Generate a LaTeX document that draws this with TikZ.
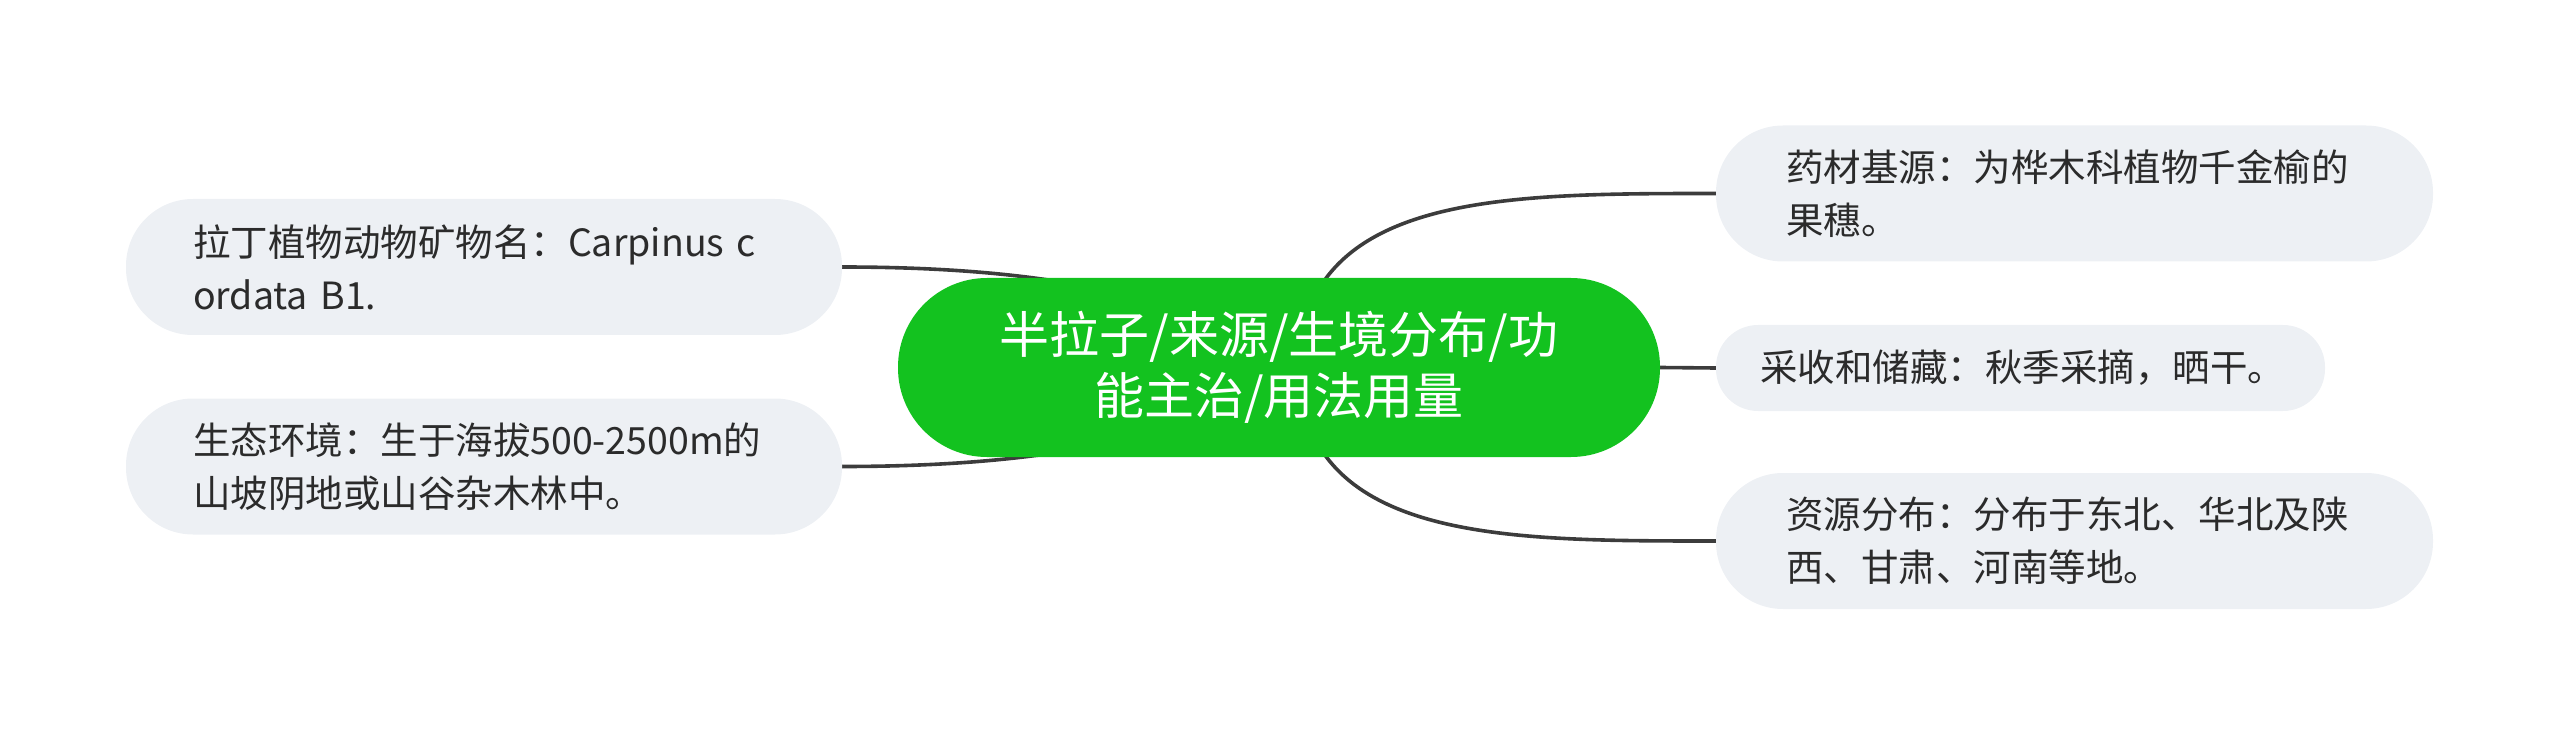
\documentclass[tikz,border=0pt]{standalone}
\usepackage{fontspec}
\setmainfont{Noto Sans CJK SC}
\usetikzlibrary{backgrounds}
\definecolor{rootgreen}{HTML}{13C21F}
\definecolor{leaffill}{HTML}{EDF0F4}
\definecolor{leaftext}{HTML}{2B2B2B}
\definecolor{conncol}{HTML}{3C3C3C}
\tikzset{
  root/.style={fill=rootgreen, draw=none, rounded corners=89pt, minimum width=762pt, minimum height=179pt,
    text=white, align=center, inner sep=0pt, font=\fontsize{50}{61}\selectfont},
  leaf/.style={fill=leaffill, draw=none, rounded corners=67pt, minimum height=136pt,
    text=leaftext, align=left, inner ysep=0pt, font=\fontsize{37.5}{53}\selectfont},
  leafshort/.style={leaf, rounded corners=42pt, minimum height=86pt},
  conn/.style={draw=conncol, line width=3.6pt}
}
\begin{document}
\begin{tikzpicture}[x=1pt,y=-1pt]
\useasboundingbox (0,0) rectangle (2560,735);
\node[root] (c) at (1279,367.5) {半拉子/来源/生境分布/功\\能主治/用法用量};
\node[leaf, inner xsep=67pt, text width=582pt] (n1) at (484,267) {\mbox{拉丁植物动物矿物名：Carpinus c}\\\mbox{ordata B1.}};
\node[leaf, inner xsep=67pt, text width=582pt] (n2) at (484,466.5) {\mbox{生态环境：生于海拔500-2500m的}\\\mbox{山坡阴地或山谷杂木林中。}};
\node[leaf, inner xsep=70pt, text width=577pt] (n3) at (2074.5,193.5) {\mbox{药材基源：为桦木科植物千金榆的}\\\mbox{果穗。}};
\node[leafshort, inner xsep=44pt, text width=521pt] (n4) at (2020.5,368) {\mbox{采收和储藏：秋季采摘，晒干。}};
\node[leaf, inner xsep=70pt, text width=577pt] (n5) at (2074.5,541) {\mbox{资源分布：分布于东北、华北及陕}\\\mbox{西、甘肃、河南等地。}};
\begin{pgfonlayer}{background}
\draw[conn] (n1.east) .. controls (1220,267) and (1250,367.5) .. (c.center);
\draw[conn] (n2.east) .. controls (1220,466.5) and (1250,367.5) .. (c.center);
\draw[conn] ([xshift=18pt]c.center) .. controls (1305,193.5) and (1500,193.5) .. (n3.west);
\draw[conn] (c.east) -- (n4.west);
\draw[conn] ([xshift=18pt]c.center) .. controls (1305,541) and (1500,541) .. (n5.west);
\end{pgfonlayer}
\end{tikzpicture}
\end{document}
